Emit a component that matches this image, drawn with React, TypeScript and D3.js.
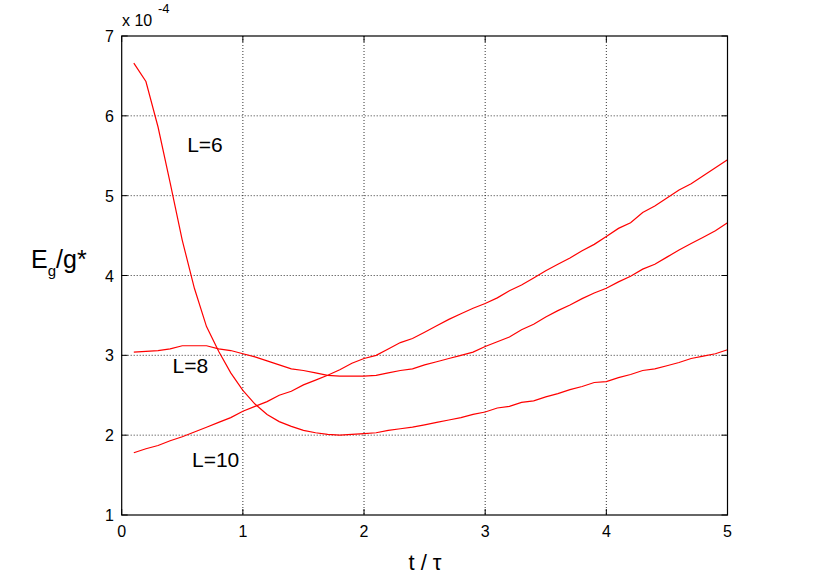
import React from "react";
import * as d3 from "d3";

const tValues = d3.range(1, 51).map((i) => i / 10);

const seriesL6 = [
  6.66, 6.43, 5.86, 5.16, 4.44, 3.84, 3.36, 3.05, 2.78, 2.56,
  2.39, 2.26, 2.17, 2.11, 2.06, 2.03, 2.01, 2.0, 2.01, 2.02,
  2.03, 2.06, 2.08, 2.1, 2.13, 2.16, 2.19, 2.22, 2.26, 2.29,
  2.34, 2.36, 2.41, 2.43, 2.48, 2.52, 2.57, 2.61, 2.66, 2.67,
  2.72, 2.76, 2.81, 2.83, 2.87, 2.91, 2.96, 2.99, 3.02, 3.07,
];
const seriesL8 = [
  3.04, 3.05, 3.06, 3.08, 3.12, 3.12, 3.12, 3.08, 3.06, 3.02,
  2.98, 2.93, 2.88, 2.83, 2.81, 2.78, 2.75, 2.74, 2.74, 2.74,
  2.75, 2.78, 2.81, 2.83, 2.88, 2.92, 2.96, 3.0, 3.04, 3.11,
  3.17, 3.23, 3.32, 3.39, 3.48, 3.56, 3.63, 3.71, 3.78, 3.84,
  3.92, 3.99, 4.08, 4.14, 4.23, 4.32, 4.4, 4.48, 4.56, 4.66,
];
const seriesL10 = [
  1.78, 1.83, 1.87, 1.93, 1.98, 2.04, 2.1, 2.16, 2.22, 2.3,
  2.36, 2.42, 2.5, 2.55, 2.63, 2.69, 2.75, 2.82, 2.9, 2.96,
  3.0, 3.08, 3.16, 3.21, 3.29, 3.37, 3.45, 3.52, 3.59, 3.65,
  3.72, 3.81, 3.88, 3.97, 4.06, 4.14, 4.22, 4.31, 4.39, 4.49,
  4.59, 4.66, 4.79, 4.87, 4.97, 5.07, 5.15, 5.25, 5.35, 5.45,
];

const xTicks = [0, 1, 2, 3, 4, 5];
const yTicks = [1, 2, 3, 4, 5, 6, 7];

const labels = [
  { text: "L=6", t: 0.54, v: 5.55 },
  { text: "L=8", t: 0.42, v: 2.78 },
  { text: "L=10", t: 0.58, v: 1.6 },
];

const W = 830;
const H = 577;
const left = 121.7;
const right = 727.5;
const top = 36;
const bottom = 515;

export default function App() {
  const x = d3.scaleLinear().domain([0, 5]).range([left, right]);
  const y = d3.scaleLinear().domain([1, 7]).range([bottom, top]);
  const line = d3
    .line<number>()
    .x((_, i) => x(tValues[i]))
    .y((d) => y(d));
  const font = "'Liberation Sans', Arial, Helvetica, sans-serif";
  const series = [seriesL6, seriesL8, seriesL10];
  return (
    <svg
      width={W}
      height={H}
      style={{ position: "absolute", left: 0, top: 0, background: "#fff" }}
      fontFamily={font}
    >
      <rect x={0} y={0} width={W} height={H} fill="#fff" />
      {xTicks.slice(1, -1).map((t) => (
        <line key={"gx" + t} x1={x(t)} x2={x(t)} y1={top} y2={bottom} stroke="#000" strokeWidth={0.8} strokeDasharray="1,2" />
      ))}
      {yTicks.slice(1, -1).map((v) => (
        <line key={"gy" + v} x1={left} x2={right} y1={y(v)} y2={y(v)} stroke="#000" strokeWidth={0.8} strokeDasharray="1,2" />
      ))}
      {xTicks.map((t) => (
        <g key={"tx" + t}>
          <line x1={x(t)} x2={x(t)} y1={bottom} y2={bottom - 6} stroke="#000" />
          <line x1={x(t)} x2={x(t)} y1={top} y2={top + 6} stroke="#000" />
          <text x={x(t)} y={537} fontSize={16} textAnchor="middle">{t}</text>
        </g>
      ))}
      {yTicks.map((v) => (
        <g key={"ty" + v}>
          <line x1={left} x2={left + 6} y1={y(v)} y2={y(v)} stroke="#000" />
          <line x1={right} x2={right - 6} y1={y(v)} y2={y(v)} stroke="#000" />
          <text x={114} y={y(v) + 6} fontSize={16} textAnchor="end">{v}</text>
        </g>
      ))}
      {series.map((s, i) => (
        <path key={"s" + i} d={line(s) || ""} fill="none" stroke="#ff0000" strokeWidth={1.2} />
      ))}
      <rect x={left} y={top} width={right - left} height={bottom - top} fill="none" stroke="#000" strokeWidth={1.2} />
      <text x={122} y={26} fontSize={16}>x 10</text>
      <text x={158} y={13} fontSize={13}>-4</text>
      {labels.map((l) => (
        <text key={l.text} x={x(l.t)} y={y(l.v)} fontSize={21}>{l.text}</text>
      ))}
      <text x={425} y={570} fontSize={22} textAnchor="middle">t / τ</text>
      <text x={31} y={268} fontSize={25}>
        E<tspan fontSize={15} dy={8}>g</tspan>
        <tspan dy={-8}>/g*</tspan>
      </text>
    </svg>
  );
}
